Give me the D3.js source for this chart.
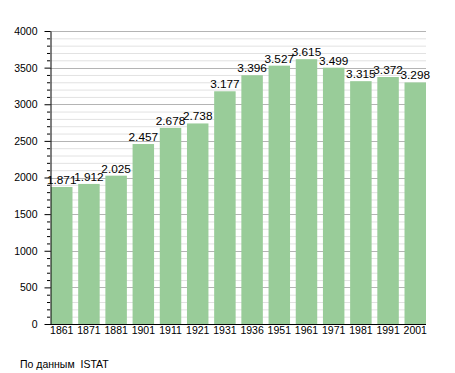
<!DOCTYPE html>
<html>
<head>
<meta charset="utf-8">
<script src="https://cdn.jsdelivr.net/npm/d3@7"></script>
<style>
  body { margin: 0; background: #fff; }
  text { font-family: "Liberation Sans", Arial, sans-serif; }
</style>
</head>
<body>
<div id="chart"></div>
<script>
// data
var years = ["1861", "1871", "1881", "1901", "1911", "1921", "1931", "1936", "1951", "1961", "1971", "1981", "1991", "2001"];
var population = [1871, 1912, 2025, 2457, 2678, 2738, 3177, 3396, 3527, 3615, 3499, 3315, 3372, 3298];
var yTicks = [0, 500, 1000, 1500, 2000, 2500, 3000, 3500, 4000];

var svg = d3.select("#chart")
    .append("svg")
    .attr("width", 455)
    .attr("height", 373);

var x = d3.scaleBand()
    .domain(years)
    .range([51, 426])
    .paddingInner(0.21)
    .paddingOuter(0);

var y = d3.scaleLinear()
    .domain([0, 4000])
    .range([324, 31]);

// minor grid lines every 100
var minor = d3.range(100, 4001, 100).filter(function (d) { return d % 500 != 0; });
svg.selectAll(".minor")
    .data(minor)
    .enter()
    .append("line")
    .attr("x1", 50).attr("x2", 426)
    .attr("y1", function (d) { return y(d) + 0.5; })
    .attr("y2", function (d) { return y(d) + 0.5; })
    .attr("stroke", "#e2e2e2");

// major grid lines
svg.selectAll(".major")
    .data(yTicks.slice(1))
    .enter()
    .append("line")
    .attr("x1", 50).attr("x2", 426)
    .attr("y1", function (d) { return Math.round(y(d)) + 0.5; })
    .attr("y2", function (d) { return Math.round(y(d)) + 0.5; })
    .attr("stroke", "#b4b4b4");

// bars
svg.selectAll("rect")
    .data(population)
    .enter()
    .append("rect")
    .attr("x", function (d, i) { return x(years[i]); })
    .attr("y", function (d) { return y(d); })
    .attr("width", x.bandwidth())
    .attr("height", function (d) { return y(0) - y(d); })
    .attr("fill", "#99cc99");

// value labels, dot as thousands separator
var fmt = function (d) { return d3.format(",")(d).replace(",", "."); };
svg.selectAll(".val")
    .data(population)
    .enter()
    .append("text")
    .attr("x", function (d, i) { return x(years[i]) + x.bandwidth() / 2; })
    .attr("y", function (d) { return y(d) - 3; })
    .attr("text-anchor", "middle")
    .attr("font-size", "11.8px")
    .attr("fill", "#000")
    .text(fmt);

// y axis
var yAxis = d3.axisLeft(y).tickValues(yTicks).tickFormat(d3.format("d"))
    .tickSize(6).tickSizeOuter(0).tickPadding(7);
var gy = svg.append("g").attr("transform", "translate(50.5,0)").call(yAxis);
gy.selectAll("text").attr("font-size", "10.5px").attr("font-family", "Liberation Sans, Arial, sans-serif").attr("fill", "#000");
gy.select(".domain").attr("stroke", "#000");

// minor ticks on the axis
svg.selectAll(".mtick")
    .data(minor)
    .enter()
    .append("line")
    .attr("x1", 47).attr("x2", 50)
    .attr("y1", function (d) { return y(d) + 0.5; })
    .attr("y2", function (d) { return y(d) + 0.5; })
    .attr("stroke", "#000");

// x axis
var xAxis = d3.axisBottom(x).tickSize(0).tickPadding(2.5);
var gx = svg.append("g").attr("transform", "translate(0,324.5)").call(xAxis);
gx.selectAll("text").attr("font-size", "10.5px").attr("font-family", "Liberation Sans, Arial, sans-serif").attr("fill", "#000");
gx.select(".domain").attr("stroke", "#000").attr("d", "M50,0H426");

// source note
svg.append("text")
    .attr("x", 20)
    .attr("y", 368)
    .attr("font-size", "10.5px")
    .attr("xml:space", "preserve")
    .style("white-space", "pre")
    .text("По данным  ISTAT");
</script>
</body>
</html>
